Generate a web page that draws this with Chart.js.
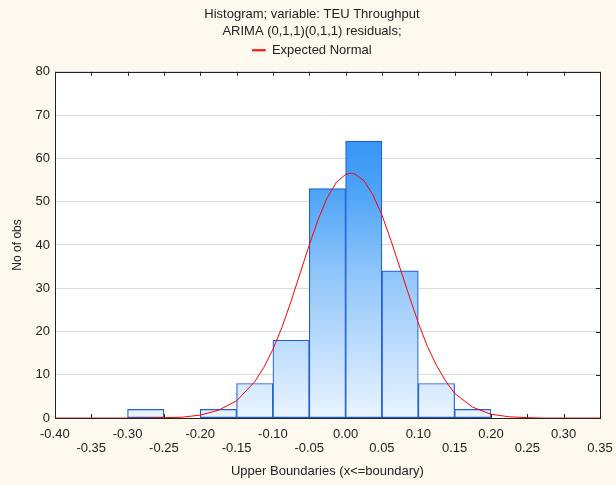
<!DOCTYPE html>
<html>
<head>
<meta charset="utf-8">
<script src="https://cdn.jsdelivr.net/npm/chart.js@4"></script>
<style>
  html, body { margin: 0; padding: 0; background: #fdf9ef; }
  #wrap { width: 616px; height: 485px; }
</style>
</head>
<body>
<div id="wrap"><canvas id="hist"></canvas></div>
<script>
// histogram bins (centre of each 0.05 wide class) and counts
var binCenters = [-0.275, -0.175, -0.125, -0.075, -0.025, 0.025, 0.075, 0.125, 0.175];
var binCounts  = [2, 2, 8, 18, 53, 64, 34, 8, 2];

// expected normal curve
var normalX = [-0.40, -0.35, -0.30, -0.275, -0.25, -0.225, -0.20, -0.175, -0.15, -0.125, -0.1125, -0.10, -0.0875,
               -0.075, -0.0625, -0.05, -0.0375, -0.025, -0.0125, 0.0, 0.0075, 0.0125, 0.025, 0.0375, 0.05, 0.0625,
               0.075, 0.0875, 0.10, 0.1125, 0.125, 0.1375, 0.15, 0.175, 0.20, 0.225, 0.25, 0.275, 0.30, 0.35];
var normalY = [0, 0, 0, 0, 0.1, 0.2, 0.7, 1.8, 4.0, 8.4, 11.7, 15.9, 21.0,
               27.0, 33.5, 40.0, 46.0, 51.0, 54.5, 56.3, 56.6, 56.4, 54.9, 51.6, 46.9, 41.0,
               34.6, 28.2, 22.0, 16.6, 12.2, 8.6, 5.7, 2.5, 0.9, 0.3, 0.1, 0, 0, 0];

var titleLines = ['Histogram; variable: TEU Throughput', 'ARIMA (0,1,1)(0,1,1) residuals;'];
var xTitle = 'Upper Boundaries (x<=boundary)';
var yTitle = 'No of obs';

var fam = "'Liberation Sans', Arial, sans-serif";
var font = { family: fam, size: 13 };

function barFill(context) {
  var chart = context.chart;
  var area = chart.chartArea;
  if (!area) return '#3a96f5';
  var g = chart.ctx.createLinearGradient(0, area.top, 0, area.bottom);
  g.addColorStop(0, '#2388f3');
  g.addColorStop(0.2, '#3a96f5');
  g.addColorStop(0.34, '#4ca3f7');
  g.addColorStop(0.57, '#8dc4fb');
  g.addColorStop(1, '#eaf4ff');
  return g;
}

// extra room under the legend
var legendGap = {
  id: 'legendGap',
  beforeInit: function (chart) {
    var fit = chart.legend.fit;
    chart.legend.fit = function () {
      fit.bind(chart.legend)();
      this.height += 5;
    };
  }
};

// white plot area, dark frame and inward ticks
var frame = {
  id: 'frame',
  beforeDraw: function (chart) {
    var a = chart.chartArea, c = chart.ctx;
    c.save();
    c.fillStyle = '#ffffff';
    c.fillRect(a.left, a.top, a.right - a.left, a.bottom - a.top);
    c.restore();
  },
  beforeDatasetsDraw: function (chart) {
    var a = chart.chartArea, c = chart.ctx;
    c.save();
    c.strokeStyle = '#222';
    c.lineWidth = 1;
    c.strokeRect(Math.round(a.left) + 0.5, Math.round(a.top) + 0.5,
                 Math.round(a.right - a.left), Math.round(a.bottom - a.top));
    c.beginPath();
    chart.scales.x.ticks.forEach(function (t) {
      var px = Math.round(chart.scales.x.getPixelForValue(t.value)) + 0.5;
      c.moveTo(px, a.bottom); c.lineTo(px, a.bottom - 4);
      c.moveTo(px, a.top); c.lineTo(px, a.top + 4);
    });
    chart.scales.y.ticks.forEach(function (t) {
      var py = Math.round(chart.scales.y.getPixelForValue(t.value)) + 0.5;
      c.moveTo(a.right, py); c.lineTo(a.right - 4, py);
    });
    c.stroke();
    c.restore();
  }
};

new Chart(document.getElementById('hist'), {
  type: 'bar',
  data: {
    datasets: [{
      type: 'line',
      label: 'Expected Normal',
      data: normalX.map(function (x, i) { return { x: x, y: normalY[i] }; }),
      borderColor: '#ff0000',
      backgroundColor: '#ff0000',
      borderWidth: 1,
      pointRadius: 0,
      tension: 0,
      fill: false
    }, {
      label: 'counts',
      data: binCenters.map(function (x, i) { return { x: x, y: binCounts[i] }; }),
      backgroundColor: barFill,
      borderColor: '#1f5fd6',
      borderWidth: 1.2,
      borderSkipped: false,
      barPercentage: 1,
      categoryPercentage: 1
    }]
  },
  options: {
    responsive: true,
    maintainAspectRatio: false,
    animation: false,
    layout: { padding: { left: 10, right: 2, top: 4, bottom: 6 } },
    plugins: {
      title: {
        display: true,
        text: titleLines,
        color: '#222',
        font: { family: fam, size: 13, weight: 'normal', lineHeight: 1.3 },
        padding: { top: 2, bottom: 0 }
      },
      legend: {
        display: true,
        labels: {
          filter: function (item) { return item.text === 'Expected Normal'; },
          color: '#222',
          font: font,
          boxWidth: 13,
          boxHeight: 1,
          padding: 4
        }
      },
      tooltip: { enabled: false }
    },
    scales: {
      x: {
        type: 'linear',
        offset: false,
        min: -0.40,
        max: 0.35,
        grid: { display: false, drawTicks: false },
        border: { display: false },
        afterFit: function (scale) { scale.paddingRight = 16; scale.paddingLeft = 0; },
        ticks: {
          stepSize: 0.05,
          autoSkip: false,
          maxRotation: 0,
          minRotation: 0,
          padding: 9,
          color: '#222',
          font: { family: fam, size: 13, lineHeight: 1.1 },
          callback: function (v, i) {
            var s = Math.abs(v) < 1e-9 ? '0.00' : v.toFixed(2);
            return i % 2 === 0 ? [s] : ['', s];
          }
        },
        title: { display: true, text: xTitle, color: '#222', font: { family: fam, size: 13, lineHeight: 1.1 }, padding: { top: 0, bottom: 0 } }
      },
      y: {
        min: 0,
        max: 80,
        grid: { color: '#dcdcdc', drawTicks: false },
        border: { display: false },
        ticks: { stepSize: 10, padding: 5, color: '#222', font: font },
        title: { display: true, text: yTitle, color: '#222', font: { family: fam, size: 12 }, padding: { top: 0, bottom: 6 } }
      }
    }
  },
  plugins: [legendGap, frame]
});
</script>
</body>
</html>
